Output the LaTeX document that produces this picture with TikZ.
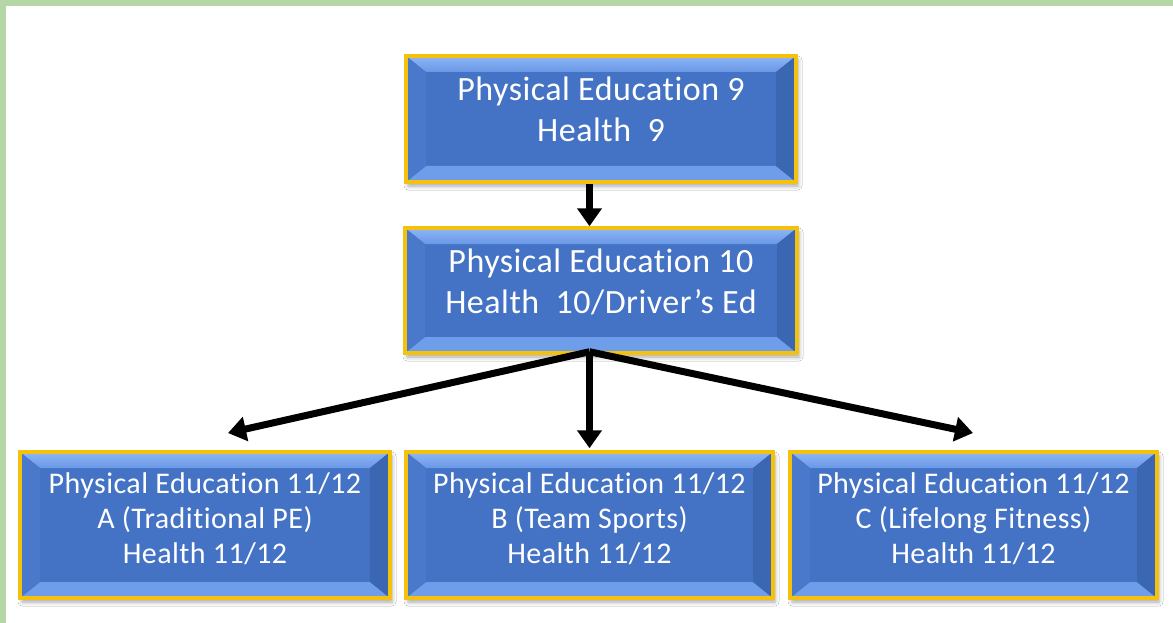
\documentclass[tikz,border=0pt]{standalone}
\usepackage{fontspec}
\setmainfont{Carlito}[Ligatures=NoCommon, LetterSpace=1.5]
\usetikzlibrary{positioning, arrows.meta, shadows.blur}

\definecolor{pageframe}{HTML}{B5D6A7}
\definecolor{boxblue}{HTML}{4472C4}
\definecolor{bevhigh}{HTML}{8FB6F6}
\definecolor{bevtop}{HTML}{6A98E6}
\definecolor{bevbot}{HTML}{6E9DEA}
\definecolor{bevleft}{HTML}{4A79CC}
\definecolor{bevright}{HTML}{3B66B2}
\definecolor{goldrim}{HTML}{F4C20D}

\newcommand\boxfontlarge{\fontsize{34}{41}\selectfont}
\newcommand\boxfontsmall{\fontsize{30}{35}\selectfont}

\begin{document}
\begin{tikzpicture}[x=1pt, y=-1pt,
    bevelbox/.style={draw=goldrim, line width=3.5pt, fill=boxblue, inner sep=0pt,
      blur shadow={shadow xshift=2pt, shadow yshift=-4pt, shadow blur radius=4pt, shadow opacity=35},
      path picture={
        \coordinate (tl) at (path picture bounding box.north west);
        \coordinate (tr) at (path picture bounding box.north east);
        \coordinate (bl) at (path picture bounding box.south west);
        \coordinate (br) at (path picture bounding box.south east);
        \coordinate (itl) at ([xshift=20pt,yshift=-16pt]tl);
        \coordinate (itr) at ([xshift=-20pt,yshift=-16pt]tr);
        \coordinate (ibl) at ([xshift=20pt,yshift=16pt]bl);
        \coordinate (ibr) at ([xshift=-20pt,yshift=16pt]br);
        \shade[top color=bevhigh, bottom color=bevtop] (tl) -- (tr) -- (itr) -- (itl) -- cycle;
        \fill[bevbot] (bl) -- (br) -- (ibr) -- (ibl) -- cycle;
        \fill[bevleft] (tl) -- (itl) -- (ibl) -- (bl) -- cycle;
        \fill[bevright] (tr) -- (itr) -- (ibr) -- (br) -- cycle;
      }},
    boxtext/.style={text=white, align=center, inner sep=0pt},
    flow/.style={line width=7pt, -{Triangle[length=18pt,width=24pt]}}]

  % page frame
  \fill[pageframe] (0,0) rectangle (1173,623);
  \fill[white] (6,6) rectangle (1173,623);
  \useasboundingbox (0,0) rectangle (1173,623);

  % boxes
  \node[bevelbox, minimum width=390pt, minimum height=126pt] (pe9) at (601,119) {};
  \node[bevelbox, minimum width=392pt, minimum height=125pt] (pe10) at (601,290.5) {};
  \node[bevelbox, minimum width=370pt, minimum height=146pt] (pe11a) at (205,525) {};
  \node[bevelbox, minimum width=367pt, minimum height=146pt] (pe11b) at (589.5,525) {};
  \node[bevelbox, minimum width=367pt, minimum height=146pt] (pe11c) at (973.5,525) {};

  \node[boxtext, font=\boxfontlarge] (pe9txt) at ([yshift=10pt]pe9.center)
    {Physical Education 9\\Health~ 9};
  \node[boxtext, font=\boxfontlarge] (pe10txt) at ([yshift=9pt]pe10.center)
    {Physical Education 10\\Health~ 10/Driver’s Ed};
  \node[boxtext, font=\boxfontsmall] (pe11atxt) at ([yshift=6pt]pe11a.center)
    {Physical Education 11/12\\A (Traditional PE)\\Health 11/12};
  \node[boxtext, font=\boxfontsmall] (pe11btxt) at ([yshift=6pt]pe11b.center)
    {Physical Education 11/12\\B (Team Sports)\\Health 11/12};
  \node[boxtext, font=\boxfontsmall] (pe11ctxt) at ([yshift=6pt]pe11c.center)
    {Physical Education 11/12\\C (Lifelong Fitness)\\Health 11/12};

  % arrows
  \coordinate (tipa) at (228,433);
  \coordinate (tipc) at (973,433);
  \coordinate (split) at ([yshift=3pt]pe10.south -| pe11b);

  \draw[flow] (pe9.south -| pe11b) -- (pe10.north -| pe11b);
  \draw[flow] (split) -- (tipa);
  \draw[flow] (split) -- ([yshift=2pt]pe11b.north);
  \draw[flow] (split) -- (tipc);

\end{tikzpicture}
\end{document}
